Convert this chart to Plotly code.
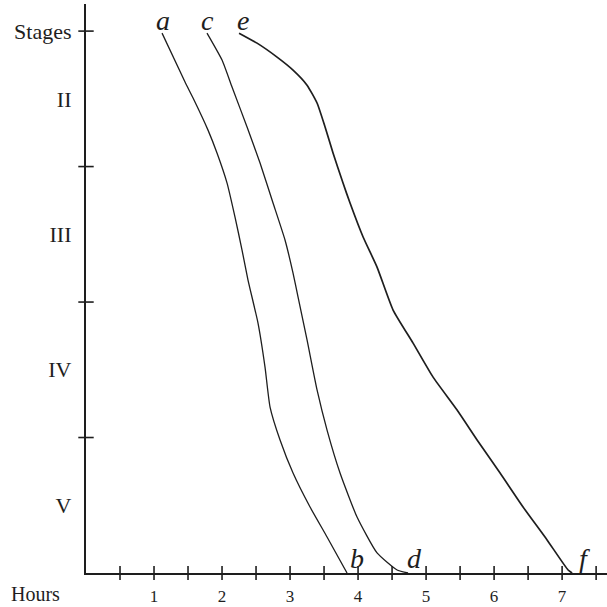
import plotly.graph_objects as go

# Curve a -> b
a_hours = [1.118, 1.456, 1.574, 1.794, 1.926, 2.074, 2.191, 2.294, 2.382, 2.529, 2.632, 2.706, 2.853, 3.044, 3.294, 3.544, 3.838]
a_stage = [3.985, 3.624, 3.506, 3.269, 3.100, 2.878, 2.627, 2.384, 2.162, 1.845, 1.520, 1.225, 0.982, 0.738, 0.487, 0.266, 0.0]

# Curve c -> d
c_hours = [1.779, 2.0, 2.147, 2.368, 2.559, 2.750, 2.926, 3.044, 3.118, 3.250, 3.397, 3.544, 3.735, 3.985, 4.279, 4.574, 4.735]
c_stage = [3.985, 3.786, 3.587, 3.292, 3.026, 2.731, 2.458, 2.214, 2.037, 1.720, 1.351, 1.055, 0.738, 0.413, 0.148, 0.022, 0.0]

# Curve e -> f
e_hours = [2.25, 2.515, 2.809, 3.044, 3.25, 3.397, 3.515, 3.632, 3.779, 3.882, 4.074, 4.279, 4.515, 4.809, 5.103, 5.456, 5.750, 6.088, 6.426, 6.779, 7.088, 7.147]
e_stage = [3.985, 3.911, 3.808, 3.712, 3.601, 3.469, 3.292, 3.100, 2.878, 2.731, 2.480, 2.258, 1.941, 1.697, 1.446, 1.203, 0.982, 0.738, 0.487, 0.244, 0.022, 0.0]

hour_ticks = [0.5, 1, 1.5, 2, 2.5, 3, 3.5, 4, 4.5, 5, 5.5, 6, 6.5, 7, 7.5]
hour_labels_vals = [1, 2, 3, 4, 5, 6, 7]
hour_labels_text = ["1", "2", "3", "4", "5", "6", "7"]
stage_ticks = [1, 2, 3, 4]
stage_label_vals = [0.5, 1.5, 2.5, 3.5, 4.0]
stage_label_text = ["V", "IV", "III", "II", "Stages"]
x_axis_name = "Hours"

curve_letters = ["a", "b", "c", "d", "e", "f"]
letter_x = [1.13, 3.98, 1.79, 4.83, 2.31, 7.33]
letter_y = [4.08, 0.11, 4.08, 0.11, 4.08, 0.11]

INK = "#1e1e1e"
SERIF = "Liberation Serif, Times New Roman, serif"

fig = go.Figure()
for xs, ys, w in [(a_hours, a_stage, 1.3), (c_hours, c_stage, 1.3), (e_hours, e_stage, 1.7)]:
    fig.add_trace(go.Scatter(x=xs, y=ys, mode="lines",
                             line=dict(color=INK, width=w, shape="spline", smoothing=0.5),
                             hoverinfo="skip", showlegend=False, cliponaxis=False))

fig.add_trace(go.Scatter(x=hour_ticks, y=[0] * len(hour_ticks), mode="markers",
                         marker=dict(symbol="line-ns", size=10, line=dict(color=INK, width=1.6)),
                         showlegend=False, cliponaxis=False, hoverinfo="skip"))
fig.add_trace(go.Scatter(x=[0] * len(stage_ticks), y=stage_ticks, mode="markers",
                         marker=dict(symbol="line-ew", size=11, line=dict(color=INK, width=1.6)),
                         showlegend=False, cliponaxis=False, hoverinfo="skip"))

for t, x, y in zip(curve_letters, letter_x, letter_y):
    fig.add_annotation(x=x, y=y, xref="x", yref="y", text="<i>" + t + "</i>", showarrow=False,
                       font=dict(family=SERIF, size=28, color=INK), xanchor="center", yanchor="middle")

fig.add_annotation(x=-0.096, y=-0.058, xref="paper", yref="paper", text=x_axis_name, showarrow=False,
                   font=dict(family=SERIF, size=20, color=INK), xanchor="center", yanchor="bottom",
                   borderpad=0)

fig.update_layout(
    width=607, height=607,
    margin=dict(l=86, r=0, t=4, b=34, autoexpand=False),
    paper_bgcolor="white", plot_bgcolor="white",
    xaxis=dict(range=[0, 7.66], showgrid=False, zeroline=False, showline=True, automargin=False,
               linecolor=INK, linewidth=2.2, ticks="", tickvals=hour_labels_vals,
               ticktext=hour_labels_text, tickfont=dict(family=SERIF, size=17, color=INK),
               ticklabelstandoff=6, fixedrange=True),
    yaxis=dict(range=[0, 4.2], showgrid=False, zeroline=False, showline=True, automargin=False,
               linecolor=INK, linewidth=2.2, ticks="", tickvals=stage_label_vals,
               ticktext=stage_label_text, tickfont=dict(family=SERIF, size=22, color=INK),
               ticklabelstandoff=8, fixedrange=True),
    showlegend=False,
)

fig.write_html("out.html", config={"displayModeBar": False},
               post_script="document.body.style.margin='0';document.body.style.overflow='hidden';")
